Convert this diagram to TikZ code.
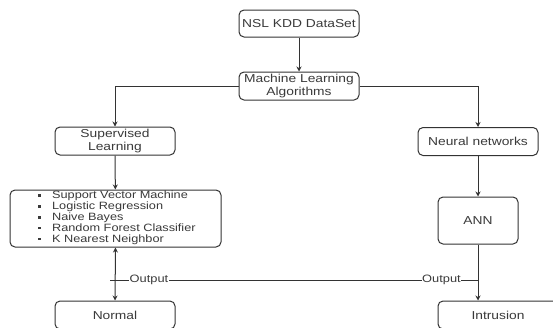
\documentclass[tikz,border=0pt]{standalone}
\usepackage{fontspec}
\setmainfont{Liberation Sans}[FakeStretch=1.2]
\usetikzlibrary{arrows.meta}
\definecolor{ink}{HTML}{333333}
\definecolor{txt}{HTML}{3A3A3A}
\tikzset{
  box/.style={draw=ink, line width=1pt, rounded corners=5pt, align=center, inner sep=1pt,
    text=txt, font=\fontsize{11.5}{12.2}\selectfont},
  conn/.style={draw=ink, line width=1pt, -{Stealth[length=5pt,width=5pt]}},
  outlbl/.style={fill=white, inner sep=0.6pt, text=txt, font=\fontsize{10.7}{11}\selectfont},
}
\newcommand{\bul}{\raisebox{2.2pt}{\rule{2.8pt}{2.4pt}}}
\begin{document}
\begin{tikzpicture}[x=1pt,y=-1pt]
\useasboundingbox (0,0) rectangle (553,327);
\fill[white] (0,0) rectangle (553,327);
\node[box, minimum width=120pt, minimum height=27pt] (nsl) at (299,23.5) {NSL KDD DataSet};
\node[box, minimum width=120pt, minimum height=28pt] (ml) at (299,86) {Machine Learning\\Algorithms};
\node[box, minimum width=120pt, minimum height=28pt] (sup) at (115,141) {Supervised\\Learning};
\node[box, minimum width=120pt, minimum height=28pt] (nn) at (478,141.5) {Neural networks};
\node[box, minimum width=211pt, minimum height=57pt, font=\fontsize{10.6}{10.75}\selectfont] (list) at (115.5,218.5)
 {\hspace*{3pt}\begin{tabular}{@{}l@{\hspace{11pt}}l@{}}
 \bul & Support Vector Machine\\
 \bul & Logistic Regression\\
 \bul & Naive Bayes\\
 \bul & Random Forest Classifier\\
 \bul & K Nearest Neighbor
 \end{tabular}};
\node[box, minimum width=80pt, minimum height=47pt] (ann) at (478,220.5) {ANN};
\node[box, minimum width=120pt, minimum height=28pt] (normal) at (115,315) {Normal};
\node[box, minimum width=120pt, minimum height=28pt] (intr) at (498,315) {Intrusion};
\draw[conn] (nsl) -- (ml);
\draw[conn] (ml.west) -| (sup.north);
\draw[conn] (ml.east) -| (nn.north);
\draw[conn] (sup) -- (list);
\draw[conn] (nn) -- (ann);
\draw[conn, {Stealth[length=5pt,width=5pt]}-{Stealth[length=5pt,width=5pt]}] (list.south) -- (normal.north);
\draw[conn] (ann.south) -- (ann.south |- intr.north);
\coordinate (oL) at (110,280);
\draw[draw=ink, line width=1pt] (oL) -- (ann.south |- oL);
\node[outlbl] (o1) at (149,280) {Output};
\node[outlbl] (o2) at (441.5,280) {Output};
\end{tikzpicture}
\end{document}
